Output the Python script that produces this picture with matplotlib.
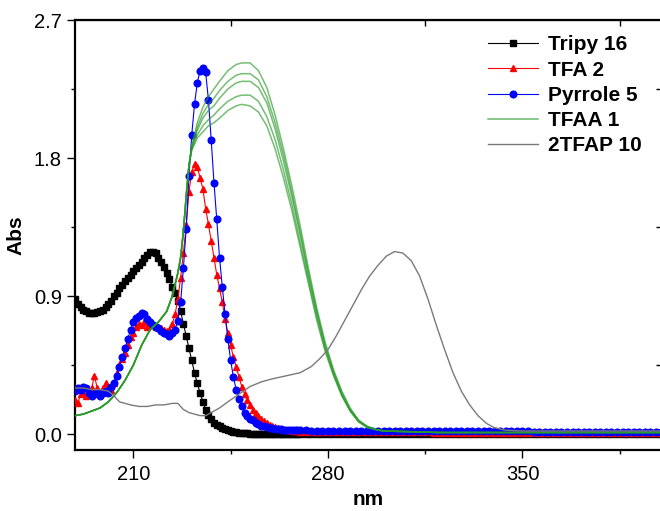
import numpy as np
import matplotlib
matplotlib.use("Agg")
import matplotlib.pyplot as plt
from matplotlib.ticker import MultipleLocator
from matplotlib.lines import Line2D

plt.rcParams['font.family'] = ['Liberation Sans', 'DejaVu Sans']

# wavelength grid for the marker series: 1 nm up to 270, then 2 nm
nm_fine = list(range(189, 271))
nm_tail = list(range(272, 401, 2))
nm = np.array(nm_fine + nm_tail)

# Tripy 16 (black squares)
tripy_fine = [0.88, 0.85, 0.83, 0.81, 0.80, 0.79, 0.79, 0.79, 0.795, 0.80,
              0.81, 0.83, 0.85, 0.87, 0.90, 0.92, 0.95, 0.97, 1.00, 1.02,
              1.04, 1.06, 1.08, 1.10, 1.12, 1.15, 1.17, 1.19, 1.19, 1.18,
              1.15, 1.12, 1.09, 1.05, 1.01, 0.96, 0.92, 0.87, 0.80, 0.72,
              0.64, 0.56, 0.48, 0.40, 0.33, 0.27, 0.21, 0.16, 0.125, 0.095,
              0.075, 0.06, 0.05, 0.04, 0.03, 0.025, 0.02, 0.016, 0.012, 0.009,
              0.007, 0.005, 0.004, 0.003, 0.002,
              0.002, 0.002, 0.002, 0.001, 0.001, 0.001, 0.001, 0.001, 0.001, 0.001,
              0.001, 0.001, 0.001, 0.001, 0.001, 0.001, 0.001]
tripy_tail = [0.001, 0.001, 0.001, 0.001, 0.001, 0.001, 0.001, 0.001, 0.001, 0.001, 0.001, 0.001, 0.001,
              0.0, 0.0, 0.0, 0.0, 0.0, 0.0, 0.0, 0.0, 0.0, 0.0, 0.0, 0.0, 0.0,
              0.0, 0.0, 0.0, 0.0, 0.0, 0.0, 0.0, 0.0, 0.0, 0.0, 0.0, 0.0, 0.0,
              0.0, 0.0, 0.0, 0.0, 0.0, 0.0, 0.0, 0.0, 0.0, 0.0, 0.0, 0.0, 0.0,
              0.0, 0.0, 0.0, 0.0, 0.0, 0.0, 0.0, 0.0, 0.0, 0.0, 0.0, 0.0, 0.0]

# TFA 2 (red triangles)
tfa_fine = [0.22, 0.20, 0.26, 0.27, 0.25, 0.28, 0.30, 0.38, 0.30, 0.27,
            0.30, 0.33, 0.31, 0.29, 0.33, 0.40, 0.45, 0.49, 0.53, 0.58,
            0.63, 0.66, 0.70, 0.72, 0.71, 0.73, 0.70, 0.72, 0.71, 0.70,
            0.70, 0.69, 0.68, 0.67, 0.68, 0.72, 0.78, 0.88, 1.02, 1.18,
            1.36, 1.58, 1.71, 1.76, 1.74, 1.67, 1.60, 1.47, 1.37, 1.26,
            1.15, 1.04, 0.95, 0.86, 0.75, 0.66, 0.58, 0.50, 0.44, 0.37,
            0.31, 0.26, 0.22, 0.19, 0.16, 0.14, 0.12, 0.10, 0.085, 0.07,
            0.06, 0.05, 0.045, 0.04, 0.035, 0.03, 0.027, 0.024, 0.022, 0.02, 0.018, 0.016]
tfa_tail = [0.015, 0.015, 0.014, 0.014, 0.014, 0.013, 0.013, 0.013, 0.013, 0.012, 0.012, 0.012, 0.012,
            0.012, 0.012, 0.011, 0.011, 0.011, 0.011, 0.011, 0.011, 0.011, 0.011, 0.010, 0.010, 0.010,
            0.010, 0.010, 0.010, 0.010, 0.010, 0.010, 0.010, 0.010, 0.010, 0.010, 0.010, 0.010, 0.010,
            0.010, 0.010, 0.010, 0.010, 0.010, 0.010, 0.010, 0.010, 0.010, 0.010, 0.010, 0.010, 0.010,
            0.010, 0.010, 0.010, 0.010, 0.010, 0.010, 0.010, 0.010, 0.010, 0.010, 0.010, 0.010, 0.010]

# Pyrrole 5 (blue circles)
pyrrole_fine = [0.28, 0.30, 0.29, 0.31, 0.30, 0.27, 0.25, 0.26, 0.27, 0.25,
                0.27, 0.28, 0.27, 0.31, 0.33, 0.38, 0.44, 0.50, 0.56, 0.62,
                0.68, 0.73, 0.76, 0.77, 0.79, 0.78, 0.75, 0.73, 0.71, 0.70,
                0.69, 0.67, 0.66, 0.65, 0.64, 0.66, 0.68, 0.74, 0.86, 1.08,
                1.34, 1.68, 1.95, 2.15, 2.29, 2.37, 2.39, 2.36, 2.18, 1.92,
                1.64, 1.40, 1.15, 0.96, 0.78, 0.62, 0.48, 0.37, 0.29, 0.23,
                0.18, 0.14, 0.12, 0.10, 0.09, 0.075, 0.065, 0.055, 0.05, 0.045,
                0.04, 0.037, 0.034, 0.032, 0.03, 0.029, 0.028, 0.027, 0.026, 0.025, 0.025, 0.024]
pyrrole_tail = [0.024, 0.023, 0.023, 0.023, 0.022, 0.022, 0.022, 0.022, 0.021, 0.021, 0.021, 0.021, 0.021,
                0.020, 0.020, 0.020, 0.020, 0.020, 0.020, 0.019, 0.019, 0.019, 0.019, 0.019, 0.019, 0.018,
                0.018, 0.018, 0.018, 0.018, 0.018, 0.018, 0.017, 0.017, 0.017, 0.017, 0.017, 0.017, 0.017,
                0.017, 0.017, 0.016, 0.016, 0.016, 0.016, 0.016, 0.016, 0.016, 0.016, 0.016, 0.016, 0.016,
                0.016, 0.016, 0.016, 0.016, 0.016, 0.016, 0.016, 0.016, 0.016, 0.016, 0.016, 0.016, 0.016]

# TFAA 1 (five green spectra, common rising edge)
tfaa_nm_base = [189, 192, 195, 198, 201, 204, 207, 210, 213, 216, 219, 222, 224, 226, 227, 228, 229, 230]
tfaa_base = [0.12, 0.13, 0.15, 0.17, 0.21, 0.27, 0.35, 0.45, 0.58, 0.68, 0.73, 0.80, 0.90, 1.05, 1.15, 1.32, 1.55, 1.75]
tfaa_nm_top = [231, 233, 235, 237, 239, 241, 244, 247, 249, 252, 255, 258, 261, 264,
               267, 270, 273, 276, 279, 282, 285, 288, 291, 294, 297, 300, 320, 400]
tfaa_a = [1.88, 2.03, 2.13, 2.20, 2.25, 2.30, 2.37, 2.41, 2.42, 2.42, 2.37, 2.26, 2.08, 1.86,
          1.62, 1.36, 1.08, 0.82, 0.60, 0.42, 0.28, 0.17, 0.09, 0.05, 0.03, 0.02, 0.01, 0.01]
tfaa_b = [1.87, 2.00, 2.09, 2.15, 2.19, 2.24, 2.30, 2.34, 2.35, 2.35, 2.31, 2.20, 2.03, 1.82,
          1.58, 1.32, 1.05, 0.80, 0.58, 0.41, 0.27, 0.16, 0.09, 0.05, 0.03, 0.02, 0.01, 0.01]
tfaa_c = [1.86, 1.98, 2.06, 2.11, 2.14, 2.19, 2.25, 2.29, 2.30, 2.30, 2.26, 2.16, 1.99, 1.78,
          1.55, 1.30, 1.03, 0.79, 0.57, 0.40, 0.26, 0.16, 0.09, 0.05, 0.03, 0.02, 0.01, 0.01]
tfaa_d = [1.86, 1.95, 2.01, 2.05, 2.08, 2.12, 2.17, 2.20, 2.21, 2.21, 2.17, 2.07, 1.92, 1.72,
          1.50, 1.25, 1.00, 0.76, 0.55, 0.39, 0.25, 0.15, 0.08, 0.05, 0.03, 0.02, 0.01, 0.01]
tfaa_e = [1.85, 1.93, 1.97, 2.01, 2.03, 2.06, 2.11, 2.14, 2.15, 2.14, 2.10, 2.01, 1.86, 1.67,
          1.46, 1.22, 0.98, 0.74, 0.54, 0.38, 0.25, 0.15, 0.08, 0.04, 0.03, 0.02, 0.01, 0.01]

# 2TFAP 10 (grey)
tfap_nm = [189, 192, 195, 198, 201, 203, 205, 207, 209, 212, 215, 218, 221, 224, 226, 228, 230, 232,
           234, 236, 238, 241, 244, 248, 252, 256, 260, 265, 270, 274, 277, 280, 283, 286, 289, 292,
           295, 298, 301, 304, 307, 310, 313, 316, 319, 322, 325, 328, 331, 334, 337, 340, 344, 350, 400]
tfap = [0.30, 0.30, 0.29, 0.29, 0.28, 0.25, 0.21, 0.20, 0.19, 0.18, 0.18, 0.19, 0.19, 0.20, 0.20, 0.16, 0.14, 0.13,
        0.12, 0.12, 0.14, 0.17, 0.21, 0.26, 0.31, 0.34, 0.36, 0.38, 0.40, 0.44, 0.49, 0.55, 0.64, 0.74, 0.84, 0.94,
        1.03, 1.10, 1.16, 1.19, 1.18, 1.13, 1.03, 0.88, 0.71, 0.55, 0.40, 0.28, 0.19, 0.12, 0.07, 0.04, 0.025, 0.02, 0.02]

fig = plt.figure(figsize=(6.6, 5.11), dpi=100)
ax = fig.add_axes([75 / 660, 61 / 511, 587 / 660, 430 / 511])

ax.plot(nm, tripy_fine + tripy_tail, color='black', lw=0.8, marker='s', ms=4.2,
        mec='black', mfc='black', zorder=2)
ax.plot(nm, tfa_fine + tfa_tail, color='red', lw=0.8, marker='^', ms=4.4,
        mec='red', mfc='red', zorder=3)
ax.plot(nm, pyrrole_fine + pyrrole_tail, color='blue', lw=0.8, marker='o', ms=4.8,
        mec='blue', mfc='blue', zorder=4)
for curve in [tfaa_a, tfaa_b, tfaa_c, tfaa_d, tfaa_e]:
    ax.plot(tfaa_nm_base + tfaa_nm_top, tfaa_base + curve, color='#2a9a2a', lw=1.1,
            alpha=0.65, zorder=5)
ax.plot(tfap_nm, tfap, color='#7a7a7a', lw=1.0, zorder=6)

ax.set_xlim(189, 400.2)
ax.set_ylim(-0.104, 2.7)
ax.set_xticks([210, 280, 350])
ax.set_yticks([0, 0.9, 1.8, 2.7])
ax.set_yticklabels(['0.0', '0.9', '1.8', '2.7'])
ax.xaxis.set_minor_locator(MultipleLocator(35))
ax.yaxis.set_minor_locator(MultipleLocator(0.45))
ax.tick_params(which='major', direction='out', length=6, width=1, labelsize=14.5,
               top=False, right=False, colors='black')
ax.tick_params(which='minor', direction='out', length=3, width=1, top=False, right=False)
ax.tick_params(axis='x', pad=5)

for s in ax.spines.values():
    s.set_linewidth(1.6)

# inward ticks on the top and right frame
top = ax.secondary_xaxis('top')
top.set_xticks([245, 315, 385])
top.set_xticklabels([])
top.tick_params(direction='in', length=4, width=1)
right = ax.secondary_yaxis('right')
right.set_yticks([0.45, 1.35, 2.25])
right.set_yticklabels([])
right.tick_params(direction='in', length=4, width=1)

ax.set_xlabel('nm', fontsize=15, fontweight='bold', labelpad=4)
ax.set_ylabel('Abs', fontsize=15, fontweight='bold', labelpad=6)

handles = [
    Line2D([], [], color='black', lw=0.8, marker='s', ms=4.2),
    Line2D([], [], color='red', lw=0.8, marker='^', ms=4.4),
    Line2D([], [], color='blue', lw=0.8, marker='o', ms=4.8),
    Line2D([], [], color='#2a9a2a', lw=1.1, alpha=0.7),
    Line2D([], [], color='#7a7a7a', lw=1.0),
]
labels = ['Tripy 16', 'TFA 2', 'Pyrrole 5', 'TFAA 1', '2TFAP 10']
ax.legend(handles, labels, loc='upper left', bbox_to_anchor=(480 / 660, 1 - 27 / 511),
          bbox_transform=fig.transFigure, frameon=False, handlelength=2.4,
          handletextpad=0.45, labelspacing=0.3, borderaxespad=0,
          prop={'weight': 'bold', 'size': 15})

fig.savefig('out.png', dpi=100)
